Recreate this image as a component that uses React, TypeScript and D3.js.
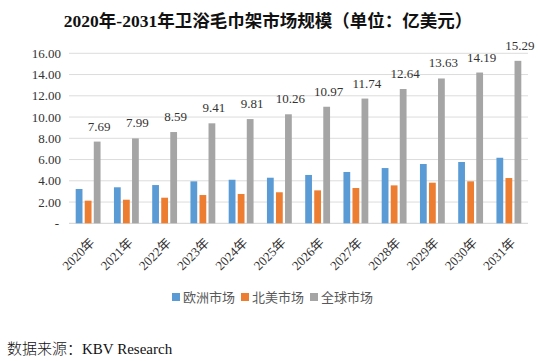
import React from "react";
import * as d3 from "d3";

const years = ["2020年","2021年","2022年","2023年","2024年","2025年","2026年","2027年","2028年","2029年","2030年","2031年"];
const europe = [3.23, 3.39, 3.6, 3.95, 4.1, 4.29, 4.55, 4.83, 5.2, 5.58, 5.77, 6.17];
const northAmerica = [2.13, 2.22, 2.41, 2.66, 2.76, 2.92, 3.1, 3.32, 3.57, 3.82, 3.95, 4.26];
const globalMarket = [7.69, 7.99, 8.59, 9.41, 9.81, 10.26, 10.97, 11.74, 12.64, 13.63, 14.19, 15.29];
const seriesNames = ["欧洲市场", "北美市场", "全球市场"];
const seriesColors = ["#5B9BD5", "#ED7D31", "#A5A5A5"];
const yTicks = [0, 2, 4, 6, 8, 10, 12, 14, 16];
const title = "2020年-2031年卫浴毛巾架市场规模（单位：亿美元）";
const source = "数据来源：";
const sourceName = "KBV Research";

const W = 538, H = 361;
const plotLeft = 69, plotRight = 528, plotTop = 53.3, plotBottom = 223.3;
const serif = "'Liberation Serif', 'Times New Roman', serif";
const cjk = "'Noto Sans CJK SC', sans-serif";

export default function App() {
  const data = [europe, northAmerica, globalMarket];
  const x = d3.scaleBand<string>().domain(years).range([plotLeft, plotRight]).paddingInner(0.35).paddingOuter(0.175);
  const inner = d3.scaleBand<number>().domain([0, 1, 2]).range([0, x.bandwidth()]).paddingInner(0.25).paddingOuter(0);
  const y = d3.scaleLinear().domain([0, 16]).range([plotBottom, plotTop]);

  return (
    <svg width={W} height={H} style={{ position: "absolute", left: 0, top: 0, background: "#fff" }}>
      <rect x={0} y={0} width={W} height={H} fill="#fff" />
      <text x={268} y={27} textAnchor="middle" fontFamily={`${serif}, ${cjk}`} fontWeight="bold" fontSize={17.5} fill="#111">{title}</text>
      {yTicks.map(t => (
        <g key={t}>
          <line x1={plotLeft} x2={plotRight} y1={y(t)} y2={y(t)} stroke={t === 0 ? "#D0D0D0" : "#DCDCDC"} strokeWidth={1} />
          <text x={t === 0 ? 59 : 61} y={y(t)} dy="0.35em" textAnchor="end" fontFamily={serif} fontSize={13} fill="#333">{t === 0 ? "-" : t.toFixed(2)}</text>
        </g>
      ))}
      {data.map((vals, si) => (
        <g key={si}>
          {vals.map((v, i) => (
            <rect key={i} x={(x(years[i]) as number) + (inner(si) as number)} y={y(v)} width={inner.bandwidth()} height={plotBottom - y(v)} fill={seriesColors[si]} />
          ))}
        </g>
      ))}
      {globalMarket.map((v, i) => (
        <text key={i} x={(x(years[i]) as number) + (inner(2) as number) + inner.bandwidth() / 2 + 2} y={y(v) - 11} textAnchor="middle" fontFamily={serif} fontSize={13} fill="#333">{v.toFixed(2)}</text>
      ))}
      {years.map((yr, i) => {
        const cx = (x(yr) as number) + x.bandwidth() / 2 + 4;
        return (
          <text key={yr} transform={`translate(${cx},${plotBottom + 17}) rotate(-45)`} textAnchor="end" dy="0.35em" fontFamily={`${serif}, ${cjk}`} fontSize={13} fill="#333">{yr}</text>
        );
      })}
      {seriesNames.map((n, i) => {
        const lx = [172, 241, 310][i];
        return (
          <g key={n}>
            <rect x={lx} y={293} width={8} height={8} fill={seriesColors[i]} />
            <text x={lx + 11} y={297} dy="0.35em" fontFamily={cjk} fontSize={13} fill="#595959">{n}</text>
          </g>
        );
      })}
      <text x={7} y={349} dy="0.35em" fontSize={15} fill="#111">
        <tspan fontFamily={cjk} fontWeight={300}>{source}</tspan>
        <tspan fontFamily={serif}>{sourceName}</tspan>
      </text>
    </svg>
  );
}
